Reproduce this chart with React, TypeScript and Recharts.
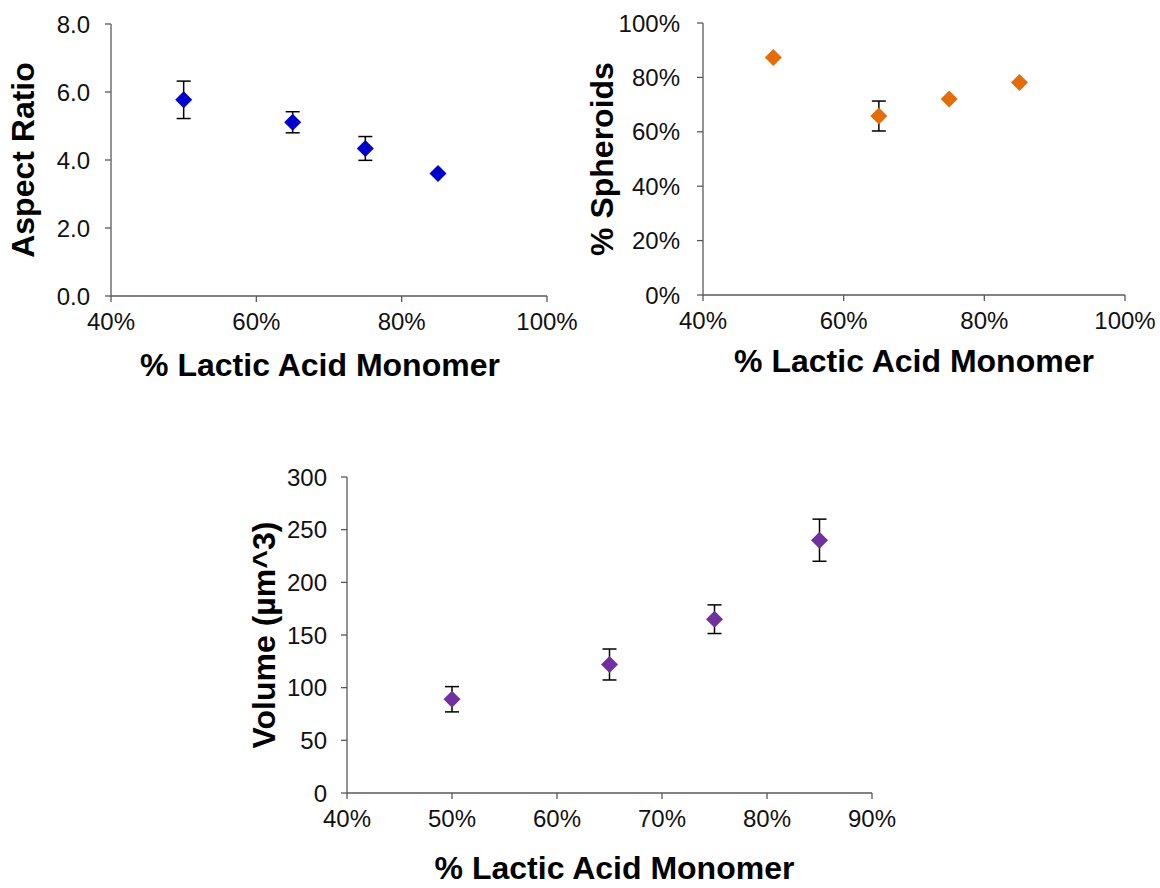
import { ScatterChart, Scatter, XAxis, YAxis, ErrorBar } from "recharts";

const FONT = '"Liberation Sans", Arial, sans-serif';
const AXIS = "#595959";

// % lactic acid monomer for each formulation
const lacticPct = [50, 65, 75, 85];

const aspectRatio = [5.77, 5.11, 4.34, 3.6];
const aspectErr = [0.55, 0.31, 0.35, 0];

const spheroidPct = [87.3, 65.8, 72.1, 78.1];
const spheroidErr = [0, 5.5, 0, 0];

const volume = [89, 122, 165, 240];
const volumeErr = [12, 14.7, 13.6, 20];

const xTicksWide = [40, 60, 80, 100];
const xTicksNarrow = [40, 50, 60, 70, 80, 90];
const aspectTicks = [0, 2, 4, 6, 8];
const spheroidTicks = [0, 20, 40, 60, 80, 100];
const volumeTicks = [0, 50, 100, 150, 200, 250, 300];

const toPoints = (ys: number[], errs: number[]) =>
  lacticPct.map((x, i) => ({ x, y: ys[i], err: errs[i] }));

const diamond = (color: string) => (props: any) => {
  const { cx, cy } = props;
  const r = 8.5;
  return (
    <polygon
      points={`${cx},${cy - r} ${cx + r},${cy} ${cx},${cy + r} ${cx - r},${cy}`}
      fill={color}
    />
  );
};

const xTitle = (text: string, below: number, dx: number) => (props: any) => {
  const vb = props.viewBox || { x: 0, y: 0, width: 0 };
  return (
    <text
      x={vb.x + vb.width / 2 + dx}
      y={vb.y + below}
      textAnchor="middle"
      fontSize={32}
      fontWeight="bold"
      fontFamily={FONT}
      fill="#000"
    >
      {text}
    </text>
  );
};

const yTitle = (text: string, baseX: number) => (props: any) => {
  const vb = props.viewBox || { x: 0, y: 0, height: 0 };
  const cy = vb.y + vb.height / 2;
  return (
    <text
      transform={`translate(${vb.x + baseX},${cy}) rotate(-90)`}
      textAnchor="middle"
      fontSize={32}
      fontWeight="bold"
      fontFamily={FONT}
      fill="#000"
    >
      {text}
    </text>
  );
};

const tickStyle = { fontSize: 24, fill: "#111", fontFamily: FONT };
const pct = (v: number) => `${v}%`;

export default function App() {
  return (
    <div style={{ position: "absolute", left: 0, top: 0, width: 1160, height: 888, background: "#fff" }}>
      {/* aspect ratio */}
      <div style={{ position: "absolute", left: 0, top: 0 }}>
        <ScatterChart width={580} height={400} margin={{ top: 24, right: 33, left: 0, bottom: 0 }}>
          <XAxis
            type="number"
            dataKey="x"
            domain={[40, 100]}
            ticks={xTicksWide}
            interval={0}
            tickFormatter={pct}
            height={104}
            tick={tickStyle}
            tickSize={6}
            tickMargin={11}
            stroke={AXIS}
            strokeWidth={1.3}
            label={xTitle("% Lactic Acid Monomer", 80, -9)}
          />
          <YAxis
            type="number"
            dataKey="y"
            domain={[0, 8]}
            ticks={aspectTicks}
            interval={0}
            tickFormatter={(v: number) => v.toFixed(1)}
            width={111}
            tick={tickStyle}
            tickSize={6}
            tickMargin={15}
            stroke={AXIS}
            strokeWidth={1.3}
            label={yTitle("Aspect Ratio", 34)}
          />
          <Scatter data={toPoints(aspectRatio, aspectErr)} fill="#0000CC" shape={diamond("#0000CC")} isAnimationActive={false}>
            <ErrorBar dataKey="err" direction="y" width={7} stroke="#000" strokeWidth={1.5} isAnimationActive={false} />
          </Scatter>
        </ScatterChart>
      </div>

      {/* % spheroids */}
      <div style={{ position: "absolute", left: 580, top: 0 }}>
        <ScatterChart width={580} height={400} margin={{ top: 23, right: 35, left: 0, bottom: 0 }}>
          <XAxis
            type="number"
            dataKey="x"
            domain={[40, 100]}
            ticks={xTicksWide}
            interval={0}
            tickFormatter={pct}
            height={105}
            tick={tickStyle}
            tickSize={6}
            tickMargin={11}
            stroke={AXIS}
            strokeWidth={1.3}
            label={xTitle("% Lactic Acid Monomer", 77, 0)}
          />
          <YAxis
            type="number"
            dataKey="y"
            domain={[0, 100]}
            ticks={spheroidTicks}
            interval={0}
            tickFormatter={pct}
            width={123}
            tick={tickStyle}
            tickSize={6}
            tickMargin={17}
            stroke={AXIS}
            strokeWidth={1.3}
            label={yTitle("% Spheroids", 33)}
          />
          <Scatter data={toPoints(spheroidPct, spheroidErr)} fill="#E46C0A" shape={diamond("#E46C0A")} isAnimationActive={false}>
            <ErrorBar dataKey="err" direction="y" width={7} stroke="#000" strokeWidth={1.5} isAnimationActive={false} />
          </Scatter>
        </ScatterChart>
      </div>

      {/* volume */}
      <div style={{ position: "absolute", left: 0, top: 440 }}>
        <ScatterChart width={1160} height={448} margin={{ top: 37, right: 288, left: 0, bottom: 0 }}>
          <XAxis
            type="number"
            dataKey="x"
            domain={[40, 90]}
            ticks={xTicksNarrow}
            interval={0}
            tickFormatter={pct}
            height={95}
            tick={tickStyle}
            tickSize={6}
            tickMargin={11}
            stroke={AXIS}
            strokeWidth={1.3}
            label={xTitle("% Lactic Acid Monomer", 86, 5)}
          />
          <YAxis
            type="number"
            dataKey="y"
            domain={[0, 300]}
            ticks={volumeTicks}
            interval={0}
            width={347}
            tick={tickStyle}
            tickSize={6}
            tickMargin={14}
            stroke={AXIS}
            strokeWidth={1.3}
            label={yTitle("Volume (µm^3)", 275)}
          />
          <Scatter data={toPoints(volume, volumeErr)} fill="#7030A0" shape={diamond("#7030A0")} isAnimationActive={false}>
            <ErrorBar dataKey="err" direction="y" width={7} stroke="#000" strokeWidth={1.5} isAnimationActive={false} />
          </Scatter>
        </ScatterChart>
      </div>
    </div>
  );
}
